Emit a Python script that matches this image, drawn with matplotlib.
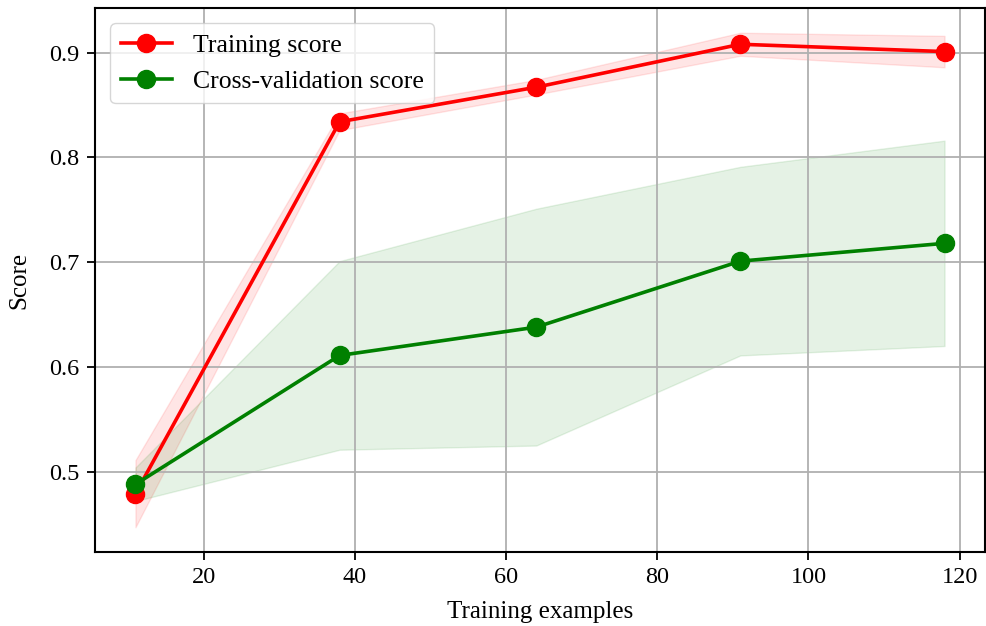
import numpy as np
import matplotlib
matplotlib.use("Agg")
from matplotlib import pyplot as plt

plt.rcParams['font.family'] = ['Liberation Serif', 'DejaVu Serif']

train_sizes = [11, 38, 64, 91, 118]
train_scores_mean = [0.479, 0.834, 0.867, 0.908, 0.901]
train_scores_std = [0.032, 0.008, 0.007, 0.011, 0.015]
test_scores_mean = [0.488, 0.611, 0.638, 0.701, 0.718]
test_scores_std = [0.016, 0.090, 0.113, 0.090, 0.098]

train_scores_mean = np.array(train_scores_mean)
train_scores_std = np.array(train_scores_std)
test_scores_mean = np.array(test_scores_mean)
test_scores_std = np.array(test_scores_std)

fig = plt.figure(figsize=(9.87, 6.26), dpi=100)
ax = fig.add_axes([95/987, 74/626, 890/987, 544/626])

ax.grid(color="#b0b0b0", linewidth=1.3)
ax.fill_between(train_sizes, train_scores_mean - train_scores_std,
                train_scores_mean + train_scores_std, alpha=0.1, color="r")
ax.fill_between(train_sizes, test_scores_mean - test_scores_std,
                test_scores_mean + test_scores_std, alpha=0.1, color="g")
ax.plot(train_sizes, train_scores_mean, 'o-', color="r", lw=2.6, ms=13,
        label="Training score")
ax.plot(train_sizes, test_scores_mean, 'o-', color="g", lw=2.6, ms=13,
        label="Cross-validation score")

ax.set_xlabel("Training examples", fontsize=18, labelpad=9)
ax.set_ylabel("Score", fontsize=18, labelpad=14)
ax.tick_params(labelsize=17.5, width=1.3, length=6, pad=5)
for s in ax.spines.values():
    s.set_linewidth(1.5)
ax.legend(loc="upper left", fontsize=18.5, borderaxespad=0.6)

fig.savefig("out.png", dpi=100)
